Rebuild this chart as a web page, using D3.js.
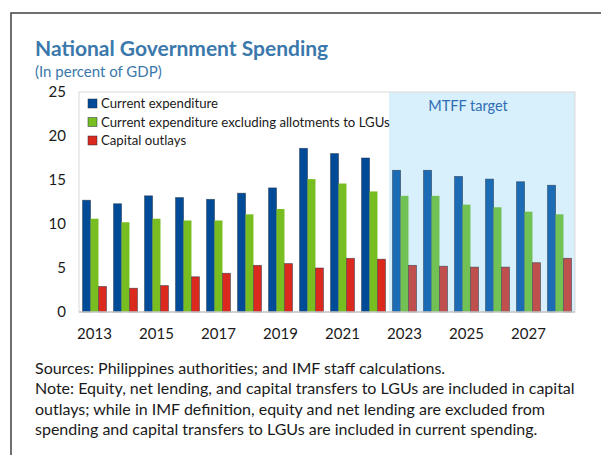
<!DOCTYPE html>
<html>
<head>
<meta charset="utf-8">
<script src="https://cdn.jsdelivr.net/npm/d3@7"></script>
<style>
  body { margin: 0; background: #fff; }
  svg { display: block; font-family: Lato, "Open Sans", sans-serif; }
</style>
</head>
<body>
<div id="chart"></div>
<script>
const years = [2013, 2014, 2015, 2016, 2017, 2018, 2019, 2020, 2021, 2022, 2023, 2024, 2025, 2026, 2027, 2028];
const currentExp = [12.7, 12.3, 13.2, 13.0, 12.8, 13.5, 14.1, 18.6, 18.0, 17.5, 16.1, 16.1, 15.4, 15.1, 14.8, 14.4];
const currentExLGU = [10.6, 10.2, 10.6, 10.4, 10.4, 11.1, 11.7, 15.1, 14.6, 13.7, 13.2, 13.2, 12.2, 11.9, 11.4, 11.1];
const capitalOutlays = [2.9, 2.7, 3.0, 4.0, 4.4, 5.3, 5.5, 5.0, 6.1, 6.0, 5.3, 5.2, 5.1, 5.1, 5.6, 6.1];
const seriesNames = ["Current expenditure", "Current expenditure excluding allotments to LGUs", "Capital outlays"];
const yTicks = [0, 5, 10, 15, 20, 25];
const firstTarget = 2023;

const width = 601, height = 455;
const margin = { top: 92, right: 26, bottom: 143, left: 79 };
const innerW = width - margin.left - margin.right;
const innerH = height - margin.top - margin.bottom;

// colours: actuals vs. MTFF target years
const histColors = ["#004b98", "#78be20", "#dc291e"];
const projColors = ["#1c6cb5", "#72c154", "#c0504d"];

const svg = d3.select("#chart").append("svg")
  .attr("width", width)
  .attr("height", height);

// outer frame (runs off the right / bottom edge)
svg.append("rect")
  .attr("x", 11).attr("y", 13)
  .attr("width", 620).attr("height", 470)
  .attr("fill", "none")
  .attr("stroke", "#404040")
  .attr("stroke-width", 1.5);

svg.append("text")
  .attr("x", 35).attr("y", 56)
  .attr("fill", "#3b78ab")
  .style("font-size", "21px")
  .style("font-weight", "bold")
  .text("National Government Spending");

svg.append("text")
  .attr("x", 35).attr("y", 77)
  .attr("fill", "#3b78ab")
  .style("font-size", "15px")
  .text("(In percent of GDP)");

const g = svg.append("g")
  .attr("transform", `translate(${margin.left},${margin.top})`);

const x = d3.scaleBand()
  .domain(years)
  .range([0, innerW])
  .paddingInner(0.23)
  .paddingOuter(0.115);

const x1 = d3.scaleBand()
  .domain([0, 1, 2])
  .range([0, x.bandwidth()]);

const y = d3.scaleLinear()
  .domain([0, 25])
  .range([innerH, 0]);

// shaded target period
const step = x.step();
const shadeX = x(firstTarget) - step * x.paddingInner() / 2;
g.append("rect")
  .attr("x", shadeX)
  .attr("y", 0)
  .attr("width", innerW - shadeX)
  .attr("height", innerH)
  .attr("fill", "#d7f0fb");

// plot border
g.append("rect")
  .attr("width", innerW).attr("height", innerH)
  .attr("fill", "none")
  .attr("stroke", "#d9d9d9");

g.append("text")
  .attr("x", shadeX + (innerW - shadeX) / 2 - 14)
  .attr("y", 19)
  .attr("text-anchor", "middle")
  .attr("fill", "#2f6db4")
  .style("font-size", "14.5px")
  .text("MTFF target");

const data = years.map((yr, i) => ({
  year: yr,
  values: [currentExp[i], currentExLGU[i], capitalOutlays[i]]
}));

const groups = g.append("g").selectAll("g")
  .data(data)
  .join("g")
  .attr("transform", d => `translate(${x(d.year)},0)`);

groups.selectAll("rect")
  .data(d => d.values.map((v, k) => ({ v, k, proj: d.year >= firstTarget })))
  .join("rect")
  .attr("x", d => x1(d.k))
  .attr("y", d => y(d.v))
  .attr("width", x1.bandwidth())
  .attr("height", d => y(0) - y(d.v))
  .attr("fill", d => (d.proj ? projColors : histColors)[d.k])
  .attr("stroke", d => d.k === 1 ? "none" : "#1a2a40")
  .attr("stroke-opacity", 0.6)
  .attr("stroke-width", 0.8);

// baseline
g.append("line")
  .attr("x1", 0).attr("x2", innerW)
  .attr("y1", innerH).attr("y2", innerH)
  .attr("stroke", "#c8c8c8")
  .attr("stroke-width", 1.5);

// y axis
const yAxis = g.append("g")
  .call(d3.axisLeft(y).tickValues(yTicks).tickSize(0).tickPadding(13));
yAxis.select(".domain").remove();
yAxis.selectAll("text")
  .style("font-family", "Lato, 'Open Sans', sans-serif")
  .style("font-size", "15px")
  .attr("fill", "#1a1a1a");

// x axis
const xAxis = g.append("g")
  .attr("transform", `translate(0,${innerH})`)
  .call(d3.axisBottom(x).tickValues(years.filter((d, i) => i % 2 === 0)).tickSize(0).tickPadding(16));
xAxis.select(".domain").remove();
xAxis.selectAll("text")
  .style("font-family", "Lato, 'Open Sans', sans-serif")
  .style("font-size", "15px")
  .attr("fill", "#1a1a1a");

// legend
const legend = g.append("g").attr("transform", "translate(9,7)");
seriesNames.forEach((name, k) => {
  const row = legend.append("g").attr("transform", `translate(0,${k * 18.5})`);
  row.append("rect")
    .attr("width", 9).attr("height", 9)
    .attr("fill", histColors[k])
    .attr("stroke", "#1a2a40")
    .attr("stroke-opacity", 0.6)
    .attr("stroke-width", 0.8);
  row.append("text")
    .attr("x", 13).attr("y", 9)
    .attr("fill", "#1a1a1a")
    .style("font-size", "13.2px")
    .text(name);
});

// footnotes
const notes = [
  "Sources: Philippines authorities; and IMF staff calculations.",
  "Note: Equity, net lending, and capital transfers to LGUs are included in capital",
  "outlays; while in IMF definition, equity and net lending are excluded from",
  "spending and capital transfers to LGUs are included in current spending."
];
svg.append("g").selectAll("text")
  .data(notes)
  .join("text")
  .attr("x", 35)
  .attr("y", (d, i) => 374 + i * 20.3)
  .attr("fill", "#1a1a1a")
  .style("font-size", "16px")
  .text(d => d);
</script>
</body>
</html>
